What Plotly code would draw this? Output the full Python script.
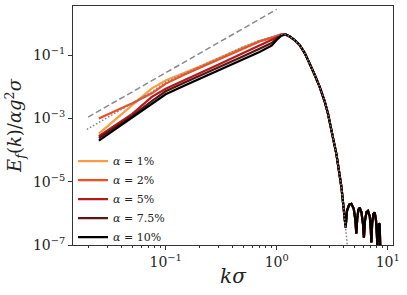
import plotly.graph_objects as go

# ---- data ----
K_LOW = [0.025, 0.05, 0.075, 0.1, 0.15, 0.2, 0.3, 0.5, 0.7, 0.9, 1.0, 1.1]
E_A1 = [3.3e-4, 2.75e-3, 8.9e-3, 1.58e-2, 2.8e-2, 4.3e-2, 7.9e-2, 0.178, 0.28, 0.36, 0.41, 0.455]
E_A2 = [1.0e-3, 3.0e-3, 6.2e-3, 1.26e-2, 2.5e-2, 3.9e-2, 7.4e-2, 0.17, 0.27, 0.35, 0.40, 0.45]
E_A5 = [2.75e-4, 1.4e-3, 4.8e-3, 8.7e-3, 1.66e-2, 2.7e-2, 5.1e-2, 0.117, 0.20, 0.29, 0.36, 0.435]
E_A75 = [2.4e-4, 1.2e-3, 3.55e-3, 7.2e-3, 1.38e-2, 2.2e-2, 4.1e-2, 9.3e-2, 0.158, 0.24, 0.33, 0.42]
E_A10 = [2.0e-4, 1.05e-3, 2.75e-3, 5.8e-3, 1.12e-2, 1.74e-2, 3.2e-2, 7.4e-2, 0.126, 0.2, 0.3, 0.41]

K_TAIL = [1.2, 1.31, 1.45, 1.61, 1.8, 1.98, 2.2, 2.44, 2.7, 2.9, 3.22, 3.45, 3.83, 4.0, 4.18,
          4.3, 4.5, 4.71, 4.95, 5.12, 5.22, 5.32, 5.45, 5.59, 5.8, 6.0, 6.11, 6.25, 6.45,
          6.65, 6.9, 7.05, 7.13, 7.25, 7.45, 7.64, 7.85, 8.0, 8.08, 8.2, 8.35, 8.47, 8.6]
E_TAIL = [0.45, 0.39, 0.3, 0.209, 0.112, 0.055, 0.024, 0.01, 3.55e-3, 1.41e-3, 2.3e-4,
          7.6e-5, 6.8e-6, 1.78e-6, 3.6e-7,
          1.2e-6, 1.9e-6, 2.0e-6, 1.4e-6, 6e-7, 2.3e-7, 7e-7, 1.3e-6, 1.5e-6, 1.1e-6, 4.5e-7,
          1.7e-7, 6e-7, 1.1e-6, 1.2e-6, 8e-7, 3e-7, 1.2e-7, 5e-7, 9.5e-7, 1.07e-6, 6e-7,
          2e-7, 9e-8, 3e-7, 4.8e-7, 4.5e-7, 6e-8]
N_DESCENT = 15  # number of tail points shared with the dotted reference curve

K_DOT_LOW = [0.0195, 0.06, 0.075, 0.1, 0.15, 0.2, 0.3, 0.5, 0.7, 0.9, 1.0, 1.1]
E_DOT_LOW = [4.5e-4, 4.3e-3, 6.9e-3, 1.41e-2, 2.75e-2, 4.3e-2, 8.1e-2, 0.182, 0.29, 0.37, 0.42, 0.46]
K_DOT_END = [4.3, 4.38, 4.42]
E_DOT_END = [1.3e-7, 3e-8, 1e-9]

K_DASH = [0.02, 1.0]
E_DASH = [1.1e-3, 2.8]

LABELS = ["<i>α</i> = 1%", "<i>α</i> = 2%", "<i>α</i> = 5%", "<i>α</i> = 7.5%", "<i>α</i> = 10%"]
COLORS = ["#fd9a44", "#ef4d22", "#b31b1b", "#5c1515", "#000000"]
SERIES = [E_A1, E_A2, E_A5, E_A75, E_A10]

FONT = "DejaVu Serif"

fig = go.Figure()
for lab, col, e in zip(LABELS, COLORS, SERIES):
    fig.add_trace(go.Scatter(x=K_LOW + K_TAIL, y=e + E_TAIL, mode="lines", name=lab,
                             line=dict(color=col, width=2.2)))

fig.add_trace(go.Scatter(x=K_DOT_LOW + K_TAIL[:N_DESCENT] + K_DOT_END,
                         y=E_DOT_LOW + E_TAIL[:N_DESCENT] + E_DOT_END,
                         mode="lines", showlegend=False,
                         line=dict(color="#808080", width=1.5, dash="1.5px,2px")))
fig.add_trace(go.Scatter(x=K_DASH, y=E_DASH, mode="lines", showlegend=False,
                         line=dict(color="#8a8a8a", width=1.5, dash="6px,3px")))

minor_x = [m * 10 ** p for p in (-2, -1, 0) for m in range(2, 10)]

axis_common = dict(type="log", showgrid=False, zeroline=False, showline=True,
                   linecolor="#333333", linewidth=1, mirror=True, ticks="outside",
                   ticklen=4, tickwidth=1, tickcolor="#333333", automargin=False,
                   tickfont=dict(family=FONT, size=14, color="#222222"))

fig.update_xaxes(**axis_common, range=[-1.835, 1.048],
                 tickvals=[0.1, 1, 10],
                 ticktext=["10<sup>−1</sup>", "10<sup>0</sup>", "10<sup>1</sup>"],
                 minor=dict(tickmode="array", tickvals=minor_x, ticks="outside",
                            ticklen=2, tickcolor="#333333", showgrid=False),
                 title=dict(text="<i>kσ</i>", font=dict(family=FONT, size=20, color="#222222"),
                            standoff=0))
fig.update_yaxes(**axis_common, range=[-7, 0.553],
                 tickvals=[1e-1, 1e-3, 1e-5, 1e-7],
                 ticktext=["10<sup>−1</sup>", "10<sup>−3</sup>", "10<sup>−5</sup>", "10<sup>−7</sup>"],
                 title=dict(text="<i>E<sub>f</sub></i>(<i>k</i>)/<i>αg</i><sup>2</sup><i>σ</i>",
                            font=dict(family=FONT, size=18, color="#222222"), standoff=6))

fig.update_layout(width=407, height=295, autosize=False,
                  margin=dict(l=73, r=14, t=6, b=50),
                  paper_bgcolor="white", plot_bgcolor="white",
                  legend=dict(x=0.0, y=-0.028, xanchor="left", yanchor="bottom",
                              bgcolor="rgba(0,0,0,0)", tracegroupgap=0,
                              font=dict(family=FONT, size=11, color="#222222")))

fig.write_html("out.html", config={"displayModeBar": False},
               post_script="document.body.style.margin='0';document.body.style.padding='0';")
